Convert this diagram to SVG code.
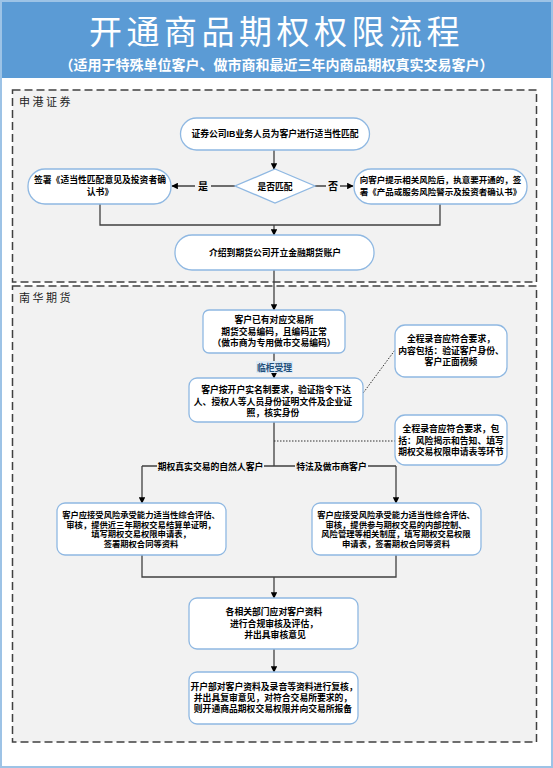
<svg xmlns="http://www.w3.org/2000/svg" width="553" height="768" viewBox="0 0 553 768">
<defs>
<marker id="ah" viewBox="0 0 10 10" refX="9" refY="5" markerWidth="5" markerHeight="5" orient="auto-start-reverse">
<path d="M0,0 L10,5 L0,10 z" fill="#000"/>
</marker>
</defs>
<style>
.t{font-family:"Liberation Sans","Noto Sans CJK SC",sans-serif;font-weight:bold;font-size:8.8px;fill:#000;text-anchor:middle}
.n{fill:#fff;stroke:#8fb8e2;stroke-width:1.3}
.c{stroke:#404040;stroke-width:1.3;fill:none}
.a{marker-end:url(#ah)}
.d{stroke:#303030;stroke-width:1;stroke-dasharray:1.5 1.5;fill:none}
.sec{fill:#f2f2f2;stroke:#404040;stroke-width:1.5;stroke-dasharray:8 4}
.sl{font-family:"Noto Sans CJK SC",sans-serif;font-size:11px;letter-spacing:2.5px;fill:#222}
.lb{fill:#f2f2f2}
</style>
<rect x="1" y="1" width="551" height="766" fill="#fff" stroke="#9dc3e6" stroke-width="2"/>
<g id="header">
<rect x="2" y="2" width="549" height="76" fill="#5b9bd5"/>
<text x="276.5" y="44" style="font-family:'Noto Sans CJK SC',sans-serif;font-size:33px;fill:#fff;text-anchor:middle;letter-spacing:4.5px">开通商品期权权限流程</text>
<text x="276.5" y="70" style="font-family:'Noto Sans CJK SC',sans-serif;font-size:14px;font-weight:bold;fill:#fff;text-anchor:middle">（适用于特殊单位客户、做市商和最近三年内商品期权真实交易客户）</text>
</g>
<g id="sections">
<rect class="sec" x="12.5" y="90" width="524" height="192"/>
<text class="sl" x="19" y="106">申港证券</text>
<rect class="sec" x="12.5" y="286" width="524" height="456"/>
<text class="sl" x="19" y="302">南华期货</text>
</g>
<g id="connectors">
<path class="c a" d="M274,150 L274,169"/>
<path class="c a" d="M235,186 L172,186"/>
<path class="c a" d="M315,186 L353,186"/>
<path class="c" d="M100,204 L100,225 L440,225 L440,204"/>
<path class="c a" d="M274,225 L274,235"/>
<path class="c a" d="M274,270 L274,310"/>
<path class="c a" d="M274,353 L274,378"/>
<path class="c" d="M274,422 L274,466 M142,466 L396,466"/>
<path class="c a" d="M142,466 L142,503"/>
<path class="c a" d="M396,466 L396,503"/>
<path class="c" d="M142,555 L142,577 L396,577 L396,555"/>
<path class="c a" d="M274,577 L274,598"/>
<path class="c a" d="M274,649 L274,672"/>
<path class="d" d="M358,400 L395,350"/>
<path class="d" d="M274,441 L395,441"/>
<rect class="lb" x="195" y="180" width="16" height="12"/>
<text class="t" x="203" y="190" style="font-size:10px">是</text>
<rect class="lb" x="326" y="180" width="14" height="12"/>
<text class="t" x="333" y="190" style="font-size:10px">否</text>
<rect x="256" y="361" width="37" height="12" fill="#ddebf7"/>
<text class="t" x="274.5" y="370.5" style="fill:#1f4e79">临柜受理</text>
<rect class="lb" x="157" y="460" width="107" height="12"/>
<text class="t" x="210.5" y="469.5">期权真实交易的自然人客户</text>
<rect class="lb" x="295" y="460" width="73" height="12"/>
<text class="t" x="331.5" y="469.5">特法及做市商客户</text>
</g>
<g id="n1">
<rect class="n" x="180.5" y="118" width="189" height="32" rx="16"/>
<text class="t" x="275" y="136.5">证券公司IB业务人员为客户进行适当性匹配</text>
</g>
<g id="n2">
<polygon class="n" points="275,169 315,186 275,203 235,186"/>
<text class="t" x="275" y="189.5">是否匹配</text>
</g>
<g id="n3">
<rect class="n" x="28" y="169" width="143" height="35" rx="17"/>
<text class="t" x="100" y="182.5">签署《适当性匹配意见及投资者确</text>
<text class="t" x="100" y="194.5">认书》</text>
</g>
<g id="n4">
<rect class="n" x="354" y="169" width="173" height="35" rx="17"/>
<text class="t" x="440.5" y="182.5" style="font-size:8.5px">向客户提示相关风险后，执意要开通的，签</text>
<text class="t" x="440.5" y="194.5" style="font-size:8.5px">署《产品或服务风险警示及投资者确认书》</text>
</g>
<g id="n5">
<rect class="n" x="175" y="235" width="199" height="35" rx="17"/>
<text class="t" x="275" y="255.5">介绍到期货公司开立金融期货账户</text>
</g>
<g id="n6">
<rect class="n" x="203" y="310" width="142" height="43" rx="6"/>
<text class="t" x="274" y="323">客户已有对应交易所</text>
<text class="t" x="274" y="334.5">期货交易编码，且编码正常</text>
<text class="t" x="274" y="346">（做市商为专用做市交易编码）</text>
</g>
<g id="n7">
<rect class="n" x="189" y="378" width="174" height="44" rx="8"/>
<text class="t" x="276" y="393">客户按开户实名制要求，验证指令下达</text>
<text class="t" x="273" y="404.5">人、授权人等人员身份证明文件及企业证</text>
<text class="t" x="273" y="416">照，核实身份</text>
</g>
<g id="n8">
<rect class="n" x="395" y="325" width="112" height="52" rx="10"/>
<text class="t" x="451" y="342">全程录音应符合要求，</text>
<text class="t" x="451" y="353.5">内容包括：验证客户身份、</text>
<text class="t" x="451" y="365">客户正面视频</text>
</g>
<g id="n9">
<rect class="n" x="395" y="415" width="112" height="50" rx="10"/>
<text class="t" x="451" y="432">全程录音应符合要求，包</text>
<text class="t" x="451" y="443.5">括：风险揭示和告知、填写</text>
<text class="t" x="451" y="455">期权交易权限申请表等环节</text>
</g>
<g id="n10">
<rect class="n" x="57" y="503" width="169" height="52" rx="8"/>
<text class="t" x="141" y="518" style="font-size:8.3px">客户应接受风险承受能力适当性综合评估、</text>
<text class="t" x="141" y="527.5" style="font-size:8.3px">审核，提供近三年期权交易结算单证明，</text>
<text class="t" x="141" y="537" style="font-size:8.3px">填写期权交易权限申请表，</text>
<text class="t" x="141" y="547" style="font-size:8.3px">签署期权合同等资料</text>
</g>
<g id="n11">
<rect class="n" x="312" y="503" width="169" height="52" rx="8"/>
<text class="t" x="396" y="518" style="font-size:8.3px">客户应接受风险承受能力适当性综合评估、</text>
<text class="t" x="396" y="527.5" style="font-size:8.3px">审核，提供参与期权交易的内部控制、</text>
<text class="t" x="396" y="537" style="font-size:8.3px">风险管理等相关制度，填写期权交易权限</text>
<text class="t" x="396" y="547" style="font-size:8.3px">申请表，签署期权合同等资料</text>
</g>
<g id="n12">
<rect class="n" x="189" y="598" width="169" height="51" rx="8"/>
<text class="t" x="274" y="615">各相关部门应对客户资料</text>
<text class="t" x="274" y="627">进行合规审核及评估，</text>
<text class="t" x="275" y="637.5">并出具审核意见</text>
</g>
<g id="n13">
<rect class="n" x="189" y="672" width="169" height="52" rx="8"/>
<text class="t" x="274" y="690">开户部对客户资料及录音等资料进行复核，</text>
<text class="t" x="273" y="701">并出具复审意见，对符合交易所要求的，</text>
<text class="t" x="273" y="711.5">则开通商品期权交易权限并向交易所报备</text>
</g>
</svg>
